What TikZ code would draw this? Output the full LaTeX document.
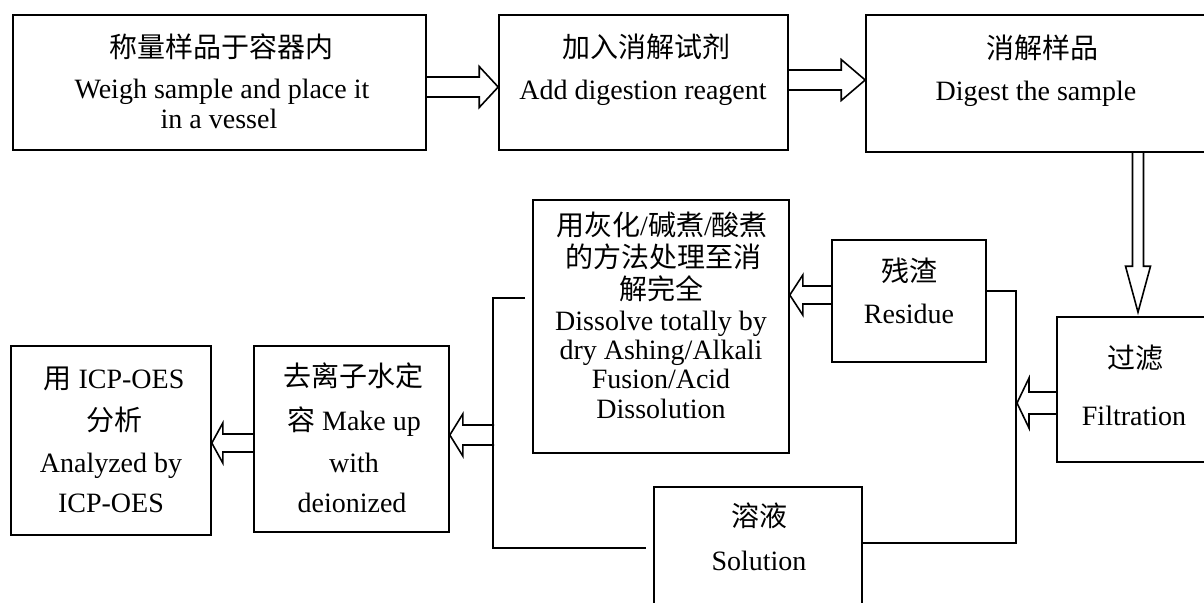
\documentclass[tikz,border=0pt]{standalone}
\usepackage{fontspec}
\setmainfont{Liberation Serif}
\newfontfamily\cjk{Noto Sans CJK SC}
\usetikzlibrary{calc,fit}
\tikzset{
  box/.style={draw, line width=0.8pt, inner sep=0pt, rectangle},
  txt/.style={anchor=base, inner sep=0pt, font=\fontsize{14pt}{16pt}\selectfont},
  blk/.style={draw, line width=0.8pt, line join=miter},
  conn/.style={draw, line width=0.8pt},
}
% #1 tail, #2 tip, #3 shaft half width, #4 head half width, #5 head length
\newcommand\blockarrow[5]{%
  \coordinate (ba-n) at ($(#2)!#5!(#1)$);
  \draw[blk] ($(#1)!#3!90:(#2)$) -- ($(ba-n)!#3!-90:(#1)$) -- ($(ba-n)!#4!-90:(#1)$)
     -- (#2) -- ($(ba-n)!#4!90:(#1)$) -- ($(ba-n)!#3!90:(#1)$) -- ($(#1)!#3!-90:(#2)$);
}
\begin{document}
\begin{tikzpicture}[x=0.5pt,y=-0.5pt]
\useasboundingbox (0,0) rectangle (1204,602);
\clip (0,0) rectangle (1204,602);
\fill[white] (0,0) rectangle (1204,602);

% boxes
\node[box, fit={(13,15)(426,150)}] (b1) {};
\node[box, fit={(499,15)(788,150)}] (b2) {};
\node[box, fit={(866,15)(1212,152)}] (b3) {};
\node[box, fit={(1057,317)(1212,462)}] (filt) {};
\node[box, fit={(832,240)(986,362)}] (res) {};
\node[box, fit={(533,200)(789,453)}] (dis) {};
\node[box, fit={(654,487)(862,620)}] (sol) {};
\node[box, fit={(254,346)(449,532)}] (mk) {};
\node[box, fit={(11,346)(211,535)}] (icp) {};

% texts
\node[txt] (t1a) at (221,57) {\cjk 称量样品于容器内};
\node[txt] (t1b) at (222,98) {Weigh sample and place it};
\node[txt] (t1c) at (219,128) {in a vessel};
\node[txt] (t2a) at (646,57) {\cjk 加入消解试剂};
\node[txt] (t2b) at (643,99) {Add digestion reagent};
\node[txt] (t3a) at (1042,58) {\cjk 消解样品};
\node[txt] (t3b) at (1036,100) {Digest the sample};
\node[txt] (r1) at (909,281) {\cjk 残渣};
\node[txt] (r2) at (909,323) {Residue};
\node[txt] (f1) at (1135,368) {\cjk 过滤};
\node[txt] (f2) at (1134,425) {Filtration};
\node[txt] (s1) at (759,526) {\cjk 溶液};
\node[txt] (s2) at (759,570) {Solution};
\node[txt] (d1) at (662,235) {{\cjk 用灰化}/{\cjk 碱煮}/{\cjk 酸煮}};
\node[txt] (d2) at (663,267) {\cjk 的方法处理至消};
\node[txt] (d3) at (661,299) {\cjk 解完全};
\node[txt] (d4) at (661,330) {Dissolve totally by};
\node[txt] (d5) at (661,359) {dry Ashing/Alkali};
\node[txt] (d6) at (661,388) {Fusion/Acid};
\node[txt] (d7) at (661,418) {Dissolution};
\node[txt] (i1) at (114,388) {{\cjk 用} ICP-OES};
\node[txt] (i2) at (114,430) {\cjk 分析};
\node[txt] (i3) at (111,472) {Analyzed by};
\node[txt] (i4) at (111,512) {ICP-OES};
\node[txt] (m1) at (353,386) {\cjk 去离子水定};
\node[txt] (m2) at (354,430) {{\cjk 容} Make up};
\node[txt] (m3) at (354,472) {with};
\node[txt] (m4) at (352,512) {deionized};

% plain connectors
\coordinate (rt) at (1016,291);
\coordinate (rb) at (1016,543);
\draw[conn] (res.east |- rt) -- (rt) -- (rb) -- (sol.east |- rb);
\coordinate (lt) at (493,298);
\coordinate (lb) at (493,548);
\draw[conn] ($(dis.west |- lt)+(-7,0)$) -- (lt) -- (lb) -- ($(sol.west |- lb)+(-7,0)$);

% block arrows
\coordinate (a1s) at (b1.east |- 0,87);
\coordinate (a1e) at (b2.west |- 0,87);
\blockarrow{a1s}{a1e}{5pt}{10.25pt}{9.5pt}
\coordinate (a2s) at (b2.east |- 0,80);
\coordinate (a2e) at (b3.west |- 0,80);
\blockarrow{a2s}{a2e}{5pt}{10.25pt}{12pt}
\coordinate (a3s) at (b3.south -| 1138,0);
\coordinate (a3e) at ($(filt.north -| 1138,0)+(0,-4)$);
\blockarrow{a3s}{a3e}{2.75pt}{6.25pt}{23pt}
\coordinate (a4s) at (filt.west |- 0,403);
\coordinate (a4e) at (1017,403);
\blockarrow{a4s}{a4e}{5.5pt}{12.5pt}{6pt}
\coordinate (a5s) at (res.west |- 0,295);
\coordinate (a5e) at (dis.east |- 0,295);
\blockarrow{a5s}{a5e}{4.5pt}{10pt}{6.5pt}
\coordinate (a6s) at (494,435);
\coordinate (a6e) at (mk.east |- 0,435);
\blockarrow{a6s}{a6e}{5pt}{10.5pt}{6.5pt}
\coordinate (a7s) at (mk.west |- 0,443);
\coordinate (a7e) at (icp.east |- 0,443);
\blockarrow{a7s}{a7e}{4.5pt}{10pt}{5.5pt}
\end{tikzpicture}
\end{document}
